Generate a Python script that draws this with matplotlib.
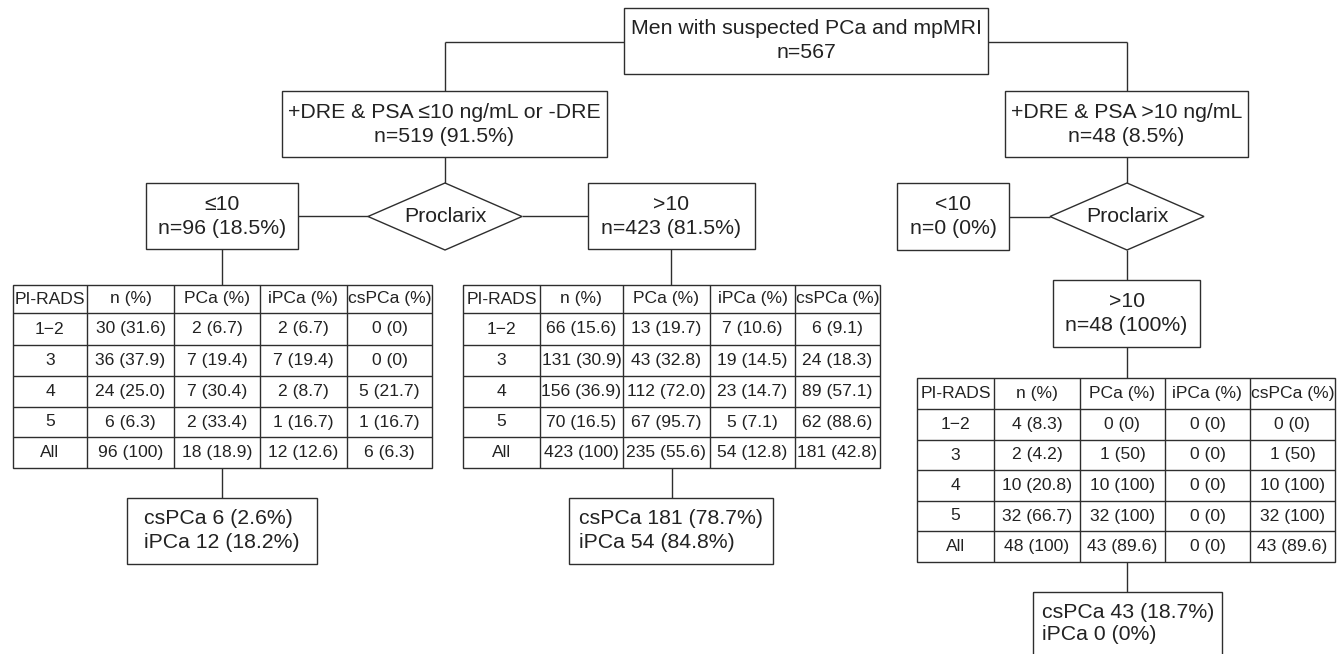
# Proclarix / mpMRI flow chart

import matplotlib.pyplot as plt
from matplotlib.patches import Rectangle, Polygon

plt.rcParams['font.family'] = ['Liberation Sans', 'DejaVu Sans']

# ---- data ----
top_text = ['Men with suspected PCa and mpMRI', 'n=567']
left_branch = ['+DRE & PSA \u226410 ng/mL or -DRE', 'n=519 (91.5%)']
right_branch = ['+DRE & PSA >10 ng/mL', 'n=48 (8.5%)']
decision = 'Proclarix'
left_low = ['\u226410', 'n=96 (18.5%)']
left_high = ['>10', 'n=423 (81.5%)']
right_low = ['<10', 'n=0 (0%)']
right_high = ['>10', 'n=48 (100%)']

header = ['PI-RADS', 'n (%)', 'PCa (%)', 'iPCa (%)', 'csPCa (%)']
pirads = ['1\u22122', '3', '4', '5', 'All']

tab_low_n = ['30 (31.6)', '36 (37.9)', '24 (25.0)', '6 (6.3)', '96 (100)']
tab_low_pca = ['2 (6.7)', '7 (19.4)', '7 (30.4)', '2 (33.4)', '18 (18.9)']
tab_low_ipca = ['2 (6.7)', '7 (19.4)', '2 (8.7)', '1 (16.7)', '12 (12.6)']
tab_low_cspca = ['0 (0)', '0 (0)', '5 (21.7)', '1 (16.7)', '6 (6.3)']

tab_high_n = ['66 (15.6)', '131 (30.9)', '156 (36.9)', '70 (16.5)', '423 (100)']
tab_high_pca = ['13 (19.7)', '43 (32.8)', '112 (72.0)', '67 (95.7)', '235 (55.6)']
tab_high_ipca = ['7 (10.6)', '19 (14.5)', '23 (14.7)', '5 (7.1)', '54 (12.8)']
tab_high_cspca = ['6 (9.1)', '24 (18.3)', '89 (57.1)', '62 (88.6)', '181 (42.8)']

tab_psa_n = ['4 (8.3)', '2 (4.2)', '10 (20.8)', '32 (66.7)', '48 (100)']
tab_psa_pca = ['0 (0)', '1 (50)', '10 (100)', '32 (100)', '43 (89.6)']
tab_psa_ipca = ['0 (0)', '0 (0)', '0 (0)', '0 (0)', '0 (0)']
tab_psa_cspca = ['0 (0)', '1 (50)', '10 (100)', '32 (100)', '43 (89.6)']

sum_low = ['csPCa 6 (2.6%)', 'iPCa 12 (18.2%)']
sum_high = ['csPCa 181 (78.7%)', 'iPCa 54 (84.8%)']
sum_psa = ['csPCa 43 (18.7%)', 'iPCa 0 (0%)']

# ---- drawing ----
LC = '#2e2e2e'
LW = 1.0
BIG = 15.3
SMALL = 12.6

fig = plt.figure(figsize=(13.43, 6.54), dpi=100)
ax = fig.add_axes([0, 0, 1, 1])
ax.set_xlim(0, 1343)
ax.set_ylim(654, 0)
ax.axis('off')


def line(xs, ys):
    ax.plot(xs, ys, color=LC, lw=LW, solid_capstyle='butt')


def box(x0, y0, x1, y1, lines, align='center', tx=None, dy=12):
    ax.add_patch(Rectangle((x0, y0), x1 - x0, y1 - y0, fill=False, ec=LC, lw=LW))
    cy = (y0 + y1) / 2
    if tx is None:
        tx = (x0 + x1) / 2
    for i, t in enumerate(lines):
        yy = cy + (i - (len(lines) - 1) / 2) * 2 * dy
        ax.text(tx, yy, t, ha=align, va='center', fontsize=BIG, color='#222222')


def diamond(x0, x1, y0, y1, label):
    cx, cy = (x0 + x1) / 2, (y0 + y1) / 2
    ax.add_patch(Polygon([(cx, y0), (x1, cy), (cx, y1), (x0, cy)], closed=True,
                         fill=False, ec=LC, lw=LW))
    ax.text(cx, cy, label, ha='center', va='center', fontsize=BIG, color='#222222')


def table(cols, rows, columns):
    x0, x1 = cols[0], cols[-1]
    ax.add_patch(Rectangle((x0, rows[0]), x1 - x0, rows[-1] - rows[0], fill=False, ec=LC, lw=LW))
    for x in cols[1:-1]:
        line([x, x], [rows[0], rows[-1]])
    for y in rows[1:-1]:
        line([x0, x1], [y, y])
    cells = [header] + [[pirads[i]] + [c[i] for c in columns] for i in range(len(pirads))]
    for r, row in enumerate(cells):
        yc = (rows[r] + rows[r + 1]) / 2
        for c, t in enumerate(row):
            xc = (cols[c] + cols[c + 1]) / 2
            ax.text(xc, yc, t, ha='center', va='center', fontsize=SMALL, color='#222222')


# top level
box(624, 8, 988, 74, top_text)
line([445, 624], [42, 42])
line([988, 1127], [42, 42])
line([445, 445], [42, 91])
line([1127, 1127], [42, 91])

box(282, 91, 607, 157, left_branch)
box(1005, 91, 1248, 157, right_branch)

# left branch
line([445, 445], [157, 183])
diamond(368, 522, 183, 250, decision)
box(146, 183, 298, 249, left_low)
box(588, 183, 755, 249, left_high)
line([298, 368], [216, 216])
line([522, 588], [216, 216])
line([222, 222], [249, 285])
line([671, 671], [249, 285])

rows_lr = [285, 313, 345, 376, 407, 437, 468]
table([13, 87, 174, 260, 347, 432], rows_lr,
      [tab_low_n, tab_low_pca, tab_low_ipca, tab_low_cspca])
table([463, 540, 623, 710, 795, 880], rows_lr,
      [tab_high_n, tab_high_pca, tab_high_ipca, tab_high_cspca])

line([222, 222], [468, 498])
line([672, 672], [468, 498])
box(127, 498, 317, 564, sum_low, align='left', tx=144)
box(569, 498, 773, 564, sum_high, align='left', tx=579)

# right branch
line([1127, 1127], [157, 183])
diamond(1050, 1204, 183, 250, decision)
box(897, 183, 1009, 250, right_low)
line([1009, 1050], [217, 217])
line([1127, 1127], [250, 280])
box(1053, 280, 1200, 347, right_high)
line([1127, 1127], [347, 378])

table([917, 994, 1080, 1165, 1250, 1335], [378, 409, 440, 470, 501, 531, 562],
      [tab_psa_n, tab_psa_pca, tab_psa_ipca, tab_psa_cspca])

line([1127, 1127], [562, 592])
box(1033, 592, 1222, 680, [], align='left')
ax.text(1042, 613, sum_psa[0], ha='left', va='center', fontsize=BIG, color='#222222')
ax.text(1042, 634, sum_psa[1], ha='left', va='center', fontsize=BIG, color='#222222')

fig.savefig('out.png', dpi=100)
